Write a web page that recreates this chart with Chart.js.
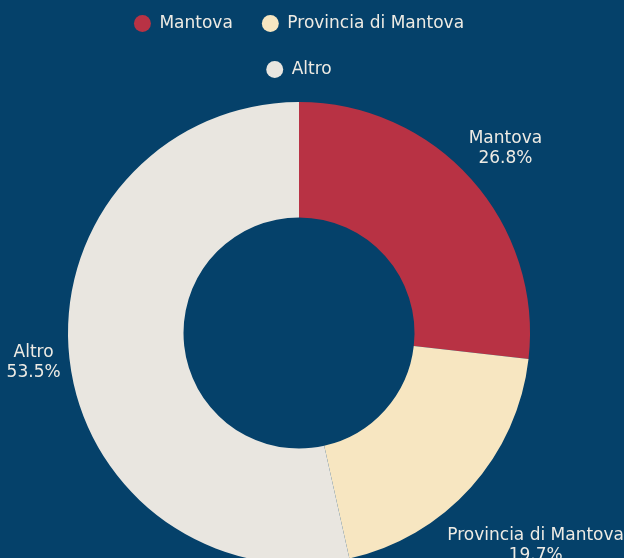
<!DOCTYPE html>
<html><head><meta charset="utf-8">
<script src="https://cdn.jsdelivr.net/npm/chart.js@4/dist/chart.umd.min.js"></script>
<style>
html,body{margin:0;padding:0;background:#05416a;overflow:hidden;width:624px;height:558px;}
#wrap{position:absolute;left:0;top:-14px;width:624px;height:640px;}
canvas{display:block;}
</style></head><body>
<div id="wrap"><canvas id="c" width="624" height="640"></canvas></div>
<script>
const categories = ['Mantova', 'Provincia di Mantova', 'Altro'];
const values = [26.8, 19.7, 53.5];
const sliceColors = ['#b83244', '#f7e6c1', '#e9e6e0'];
const textColor = '#eeebe4';
const FONT = "'DejaVu Sans', sans-serif";

const outerLabels = {
  id: 'outerLabels',
  afterDatasetsDraw(chart) {
    const ctx = chart.ctx;
    const meta = chart.getDatasetMeta(0);
    ctx.save();
    ctx.font = '17px ' + FONT;
    ctx.fillStyle = textColor;
    ctx.textAlign = 'center';
    ctx.textBaseline = 'middle';
    const lineGap = 20;
    meta.data.forEach((arc, i) => {
      const p = arc.getProps(['x', 'y', 'startAngle', 'endAngle', 'outerRadius'], true);
      const a = (p.startAngle + p.endAngle) / 2;
      const lines = [categories[i], values[i].toFixed(1) + '%'];
      const w = Math.max(...lines.map(l => ctx.measureText(l).width));
      const vx = Math.cos(a), vy = Math.sin(a);
      let r = p.outerRadius + 9 + w / 2;
      let cx = p.x + vx * r;
      const W = chart.width;
      if (cx + w / 2 > W && vx > 0) r = (W - w / 2 - p.x) / vx;
      if (cx - w / 2 < 0 && vx < 0) r = (w / 2 - p.x) / vx;
      cx = p.x + vx * r;
      const cy = p.y + vy * r;
      ctx.fillText(lines[0], cx, cy - lineGap / 2);
      ctx.fillText(lines[1], cx, cy + lineGap / 2);
    });
    ctx.restore();
  }
};

Chart.defaults.font.family = FONT;
new Chart(document.getElementById('c'), {
  type: 'doughnut',
  data: {
    labels: categories,
    datasets: [{
      data: values,
      backgroundColor: sliceColors,
      borderWidth: 0
    }]
  },
  options: {
    responsive: false,
    animation: false,
    cutout: '50%',
    layout: { padding: { left: 68, right: 94, top: 0, bottom: 48 } },
    plugins: {
      legend: {
        position: 'top',
        labels: {
          usePointStyle: true,
          pointStyle: 'circle',
          boxWidth: 17,
          boxHeight: 12,
          padding: 29,
          color: textColor,
          font: { family: FONT, size: 17 }
        }
      },
      tooltip: { enabled: false }
    }
  },
  plugins: [outerLabels]
});
</script>
</body></html>
